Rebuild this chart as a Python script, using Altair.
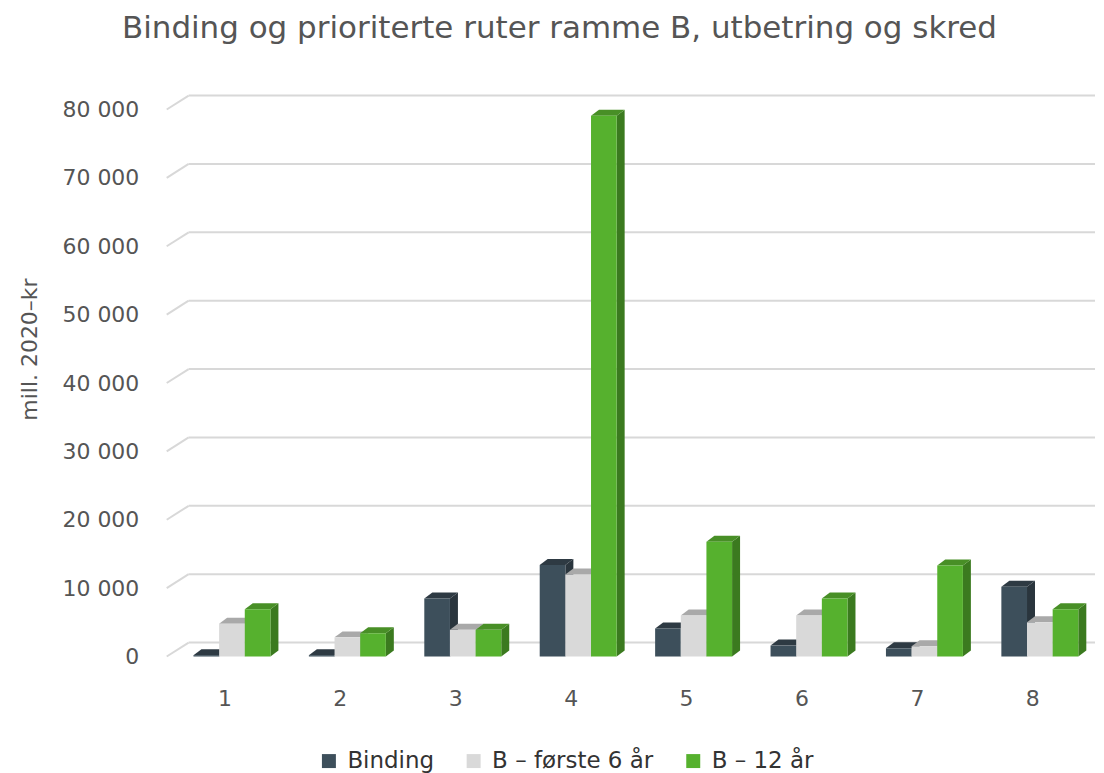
import altair as alt
import pandas as pd

# ---- data (values in mill. 2020-kr) ----
categories = ["1", "2", "3", "4", "5", "6", "7", "8"]
series_names = ["Binding", "B – første 6 år", "B – 12 år"]
binding = [200, 200, 8500, 13400, 4100, 1600, 1200, 10200]
forste_6 = [4800, 2800, 3900, 12000, 6000, 6000, 1500, 5000]
tolv_aar = [6900, 3400, 3900, 79100, 16800, 8500, 13300, 6900]
grid_values = [0, 10000, 20000, 30000, 40000, 50000, 60000, 70000, 80000]
x_ticks = [1, 2, 3, 4, 5, 6, 7, 8]

front_colors = ["#3d4f5b", "#d9d9d9", "#56b12e"]
side_colors = ["#2a353d", "#b2b2b2", "#3b7a1f"]
top_colors = ["#2e3a43", "#a9a9a9", "#488f26"]

rows = []
for ci, cat in enumerate(categories):
    for si, vals in enumerate([binding, forste_6, tolv_aar]):
        rows.append({"cat": ci + 1, "label": cat, "series": series_names[si],
                     "sidx": si, "value": vals[ci]})
df = pd.DataFrame(rows)
grid_df = pd.DataFrame({"v": grid_values})

# ---- geometry (in scale units) ----
W, H = 925, 548
PX_X = W / 8.0            # pixels per category unit
PX_Y = H / 80000.0        # pixels per value unit
BW = 25.7 / PX_X          # bar width
B0 = -31.0 / PX_X         # left edge of first bar relative to category
DX = 8.0 / PX_X           # depth (x)
DY = 6.0 / PX_Y           # depth (y)

FONT = "DejaVu Sans"
xscale = alt.Scale(domain=[0.5, 8.5], nice=False, zero=False)
yscale = alt.Scale(domain=[0, 80000], nice=False)

xaxis = alt.Axis(values=x_ticks, format="d", grid=False, domain=False, ticks=False,
                 labelPadding=32, labelFontSize=22, labelFont=FONT,
                 labelColor="#555555")
yaxis = alt.Axis(values=grid_values, grid=False, domain=False, ticks=False,
                 labelExpr="replace(format(datum.value, ',d'), ',', ' ')",
                 labelPadding=28, labelFontSize=22, labelFont=FONT,
                 labelColor="#555555",
                 titleFont=FONT, titleFontSize=22, titleFontWeight="normal",
                 titleColor="#555555", titleX=-137, titleY=240,
                 titleAngle=270, titleAlign="center", titleBaseline="middle")


def X(field):
    return alt.X(field, type="quantitative", scale=xscale, title=None, axis=xaxis)


def Y(field):
    return alt.Y(field, type="quantitative", scale=yscale, title="mill. 2020–kr", axis=yaxis)


base = alt.Chart(df).transform_calculate(
    xl=f"datum.cat + {B0} + datum.sidx * {BW}",
).transform_calculate(
    xr=f"datum.xl + {BW}",
    bid="datum.cat * 10 + datum.sidx",
)

grid_base = alt.Chart(grid_df).transform_calculate(gx0="0.5", gx1="8.5")

grid_back = grid_base.mark_rule(
    color="#d8d8d8", strokeWidth=2, xOffset=22, yOffset=-14, x2Offset=5
).encode(x=X("gx0"), x2="gx1:Q", y=Y("v"))

grid_diag = grid_base.mark_rule(
    color="#d8d8d8", strokeWidth=2, x2Offset=22, y2Offset=-14
).encode(x=X("gx0"), x2="gx0:Q", y=Y("v"), y2="v:Q")

side = base.transform_calculate(t0="0", t1="1").transform_fold(
    ["t0", "t1"], as_=["k", "t"]
).transform_calculate(
    px=f"datum.xr + datum.t * {DX}",
    py=f"datum.value + datum.t * {DY}",
    py2=f"datum.t * {DY}",
).mark_area(orient="vertical", interpolate="linear").encode(
    x=X("px"), y=Y("py"), y2="py2:Q",
    detail="bid:N",
    color=alt.Color("series:N", scale=alt.Scale(domain=series_names, range=side_colors), legend=None),
)

top = base.transform_calculate(t0="0", t1="1", t2="2", t3="3").transform_fold(
    ["t0", "t1", "t2", "t3"], as_=["k", "t"]
).transform_calculate(
    px=f"datum.t == 0 ? datum.xl : datum.t == 1 ? datum.xl + {DX} : datum.t == 2 ? datum.xr : datum.xr + {DX}",
    py=f"datum.value + (datum.t > 0 ? {DY} : 0)",
    py2=f"datum.value + (datum.t == 3 ? {DY} : 0)",
).mark_area(orient="vertical", interpolate="linear").encode(
    x=X("px"), y=Y("py"), y2="py2:Q",
    detail="bid:N",
    color=alt.Color("series:N", scale=alt.Scale(domain=series_names, range=top_colors), legend=None),
)

front = base.transform_calculate(zero="0").mark_rect().encode(
    x=X("xl"), x2="xr:Q", y=Y("value"), y2="zero:Q",
    color=alt.Color("series:N", scale=alt.Scale(domain=series_names, range=front_colors),
                    sort=series_names,
                    legend=alt.Legend(title=None, orient="none", legendX=151, legendY=641,
                                      direction="horizontal", symbolType="square",
                                      symbolSize=196, symbolStrokeWidth=0,
                                      labelFontSize=23, labelFont=FONT, labelLimit=400,
                                      labelColor="#333333", labelOffset=7,
                                      columnPadding=28, padding=0)),
)

chart = alt.layer(grid_back, grid_diag, side, top, front).resolve_scale(
    color="independent"
).properties(
    width=W, height=H,
    padding={"left": 11, "top": 4, "right": 0, "bottom": 0},
    title=alt.TitleParams(
        "Binding og prioriterte ruter ramme B, utbetring og skred",
        font=FONT, fontSize=31, fontWeight="normal", color="#555555",
        anchor="middle", frame="group", dx=-69, offset=50,
    ),
).configure_view(stroke=None)

chart.save("out.html", embed_options={"renderer": "svg", "actions": False})
